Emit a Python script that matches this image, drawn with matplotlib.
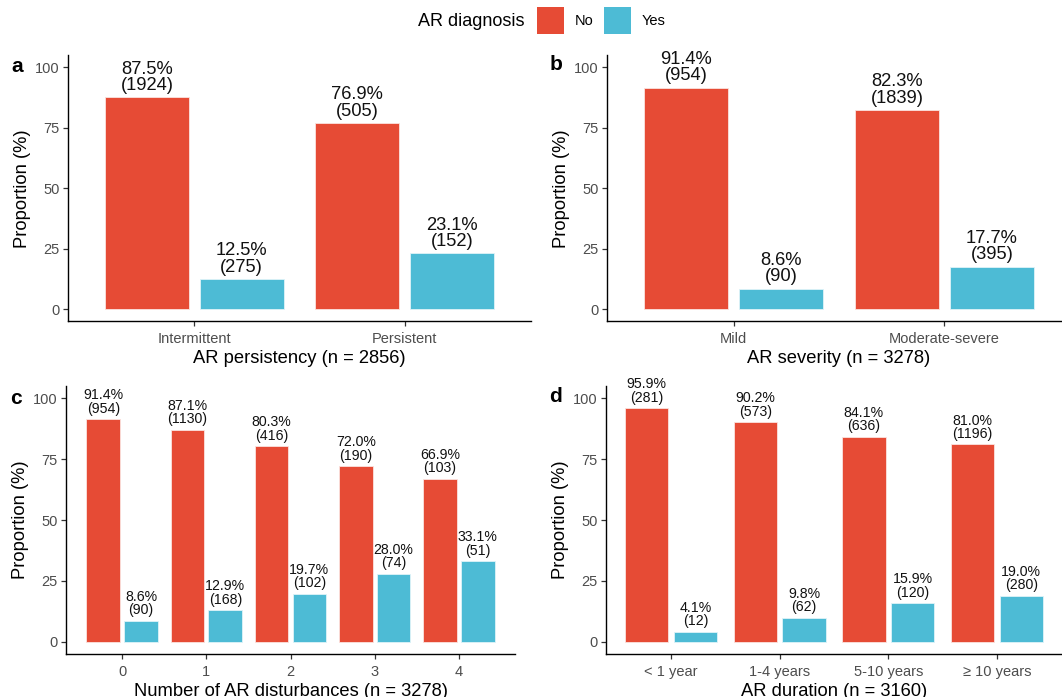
import matplotlib
matplotlib.use("Agg")
import matplotlib.pyplot as plt
from matplotlib.patches import Rectangle

plt.rcParams['font.family'] = ['Liberation Sans', 'DejaVu Sans']

W, H, DPI = 1062, 697, 100
NO_COLOR = "#E64B35"
YES_COLOR = "#4DBBD5"

# (a) AR persistency
persist_cats = ["Intermittent", "Persistent"]
persist_no_pct = [87.5, 76.9]
persist_no_n = [1924, 505]
persist_yes_pct = [12.5, 23.1]
persist_yes_n = [275, 152]

# (b) AR severity
severity_cats = ["Mild", "Moderate-severe"]
severity_no_pct = [91.4, 82.3]
severity_no_n = [954, 1839]
severity_yes_pct = [8.6, 17.7]
severity_yes_n = [90, 395]

# (c) number of AR disturbances
disturb_cats = ["0", "1", "2", "3", "4"]
disturb_no_pct = [91.4, 87.1, 80.3, 72.0, 66.9]
disturb_no_n = [954, 1130, 416, 190, 103]
disturb_yes_pct = [8.6, 12.9, 19.7, 28.0, 33.1]
disturb_yes_n = [90, 168, 102, 74, 51]

# (d) AR duration
duration_cats = ["< 1 year", "1-4 years", "5-10 years", "\u2265 10 years"]
duration_no_pct = [95.9, 90.2, 84.1, 81.0]
duration_no_n = [281, 573, 636, 1196]
duration_yes_pct = [4.1, 9.8, 15.9, 19.0]
duration_yes_n = [12, 62, 120, 280]

fig = plt.figure(figsize=(W / DPI, H / DPI), dpi=DPI)


def px_axes(left, right, top, bottom):
    return fig.add_axes([left / W, 1 - bottom / H, (right - left) / W, (bottom - top) / H])


def panel(ax, cats, no_pct, no_n, yes_pct, yes_n, xlabel, pad_units, lab_size):
    x = list(range(len(cats)))
    dodge, width = 0.225, 0.4
    xs_no = [v - dodge for v in x]
    xs_yes = [v + dodge for v in x]
    ax.bar(xs_no, no_pct, width=width, color=NO_COLOR, edgecolor="#fbe3df", linewidth=0.6)
    ax.bar(xs_yes, yes_pct, width=width, color=YES_COLOR, edgecolor="#dff3f8", linewidth=0.6)
    for xs, pcts, ns in ((xs_no, no_pct, no_n), (xs_yes, yes_pct, yes_n)):
        for xv, p, n in zip(xs, pcts, ns):
            ax.annotate(f"{p:.1f}%\n({n})", xy=(xv, p), xytext=(0, 2.5),
                        textcoords="offset points", ha="center", va="bottom",
                        fontsize=lab_size, color="#111111", linespacing=0.95)
    ax.set_xlim(-pad_units, len(cats) - 1 + pad_units)
    ax.set_ylim(-5, 105)
    ax.set_xticks(x)
    ax.set_xticklabels(cats)
    ax.set_yticks([0, 25, 50, 75, 100])
    for side in ("top", "right"):
        ax.spines[side].set_visible(False)
    for side in ("left", "bottom"):
        ax.spines[side].set_color("black")
        ax.spines[side].set_linewidth(1.0)
    ax.tick_params(axis="both", length=3.6, width=0.9, color="#333333",
                   labelcolor="#4D4D4D", labelsize=10.5)
    ax.tick_params(axis="x", pad=4)
    ax.tick_params(axis="y", pad=2.5)
    ax.set_xlabel(xlabel, fontsize=13.2, color="black", labelpad=3)
    ax.set_ylabel("Proportion (%)", fontsize=13.2, color="black", labelpad=3)


ax_a = px_axes(68, 531, 55, 321.5)
panel(ax_a, persist_cats, persist_no_pct, persist_no_n, persist_yes_pct, persist_yes_n,
      "AR persistency (n = 2856)", 0.6, 13.2)

ax_b = px_axes(607, 1071, 55, 321.5)
panel(ax_b, severity_cats, severity_no_pct, severity_no_n, severity_yes_pct, severity_yes_n,
      "AR severity (n = 3278)", 0.6, 13.2)

ax_c = px_axes(66, 515, 386, 654)
panel(ax_c, disturb_cats, disturb_no_pct, disturb_no_n, disturb_yes_pct, disturb_yes_n,
      "Number of AR disturbances (n = 3278)", 0.668, 10.2)

ax_d = px_axes(606, 1062, 386, 654)
panel(ax_d, duration_cats, duration_no_pct, duration_no_n, duration_yes_pct, duration_yes_n,
      "AR duration (n = 3160)", 0.6, 10.2)

# panel letters
for letter, (px, py) in zip("abcd", [(17, 66), (556, 65), (16, 398), (556, 397)]):
    fig.text(px / W, 1 - py / H, letter, fontsize=15, fontweight="bold",
             ha="center", va="center", color="black")

# legend drawn along the top edge
fig.text(418 / W, 1 - 22 / H, "AR diagnosis", fontsize=13, ha="left", va="center")
for x0, color, label in ((537, NO_COLOR, "No"), (604, YES_COLOR, "Yes")):
    fig.patches.append(Rectangle((x0 / W, 1 - 34 / H), 27 / W, 27 / H,
                                 transform=fig.transFigure, facecolor=color,
                                 edgecolor="none"))
    fig.text((x0 + 38) / W, 1 - 21 / H, label, fontsize=10.5, ha="left", va="center")

fig.savefig("out.png", dpi=DPI)
